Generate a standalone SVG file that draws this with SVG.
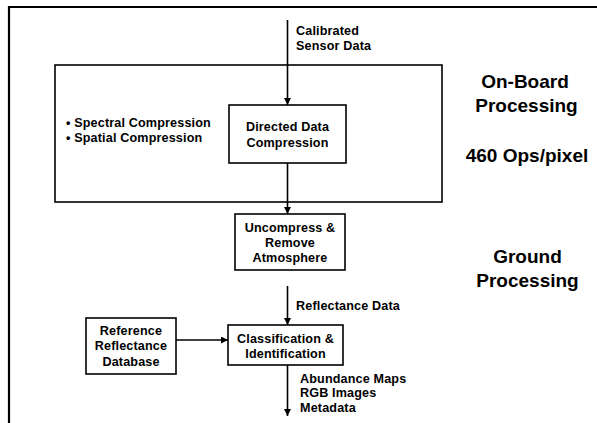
<svg xmlns="http://www.w3.org/2000/svg" width="597" height="423" viewBox="0 0 597 423">
<defs>
<marker id="ah" viewBox="0 0 10 10" refX="10" refY="5" markerWidth="7" markerHeight="7" markerUnits="userSpaceOnUse" orient="auto">
<path d="M0,0 L10,5 L0,10 z" fill="#000"/>
</marker>
<style>
.box{fill:#fff;stroke:#000;stroke-width:1.6}
.sm{font-family:"Liberation Sans",Arial,sans-serif;font-weight:bold;font-size:12.6px;letter-spacing:0.15px;fill:#000}
.lg{font-family:"Liberation Sans",Arial,sans-serif;font-weight:bold;font-size:19px;fill:#000}
.c{text-anchor:middle}
.ln{stroke:#000;stroke-width:1.6;fill:none}
</style>
</defs>
<rect width="597" height="423" fill="#fff"/>
<g id="frame">
<path d="M9,423 L9,7 L597,7" fill="none" stroke="#000" stroke-width="2.2"/>
</g>
<g id="onboard">
<rect x="55" y="65" width="387" height="137" fill="none" stroke="#000" stroke-width="1.6"/>
<text class="sm" x="66" y="127">• Spectral Compression</text>
<text class="sm" x="66" y="142">• Spatial Compression</text>
</g>
<g id="directed">
<rect class="box" x="229" y="105" width="117" height="58"/>
<text class="sm c" x="287.5" y="131">Directed Data</text>
<text class="sm c" x="287.5" y="147">Compression</text>
</g>
<g id="uncompress">
<rect class="box" x="235" y="214" width="110" height="56"/>
<text class="sm c" x="290" y="232">Uncompress &amp;</text>
<text class="sm c" x="290" y="247">Remove</text>
<text class="sm c" x="290" y="262">Atmosphere</text>
</g>
<g id="classification">
<rect class="box" x="228" y="325" width="115" height="40"/>
<text class="sm c" x="285.5" y="343">Classification &amp;</text>
<text class="sm c" x="285.5" y="358">Identification</text>
</g>
<g id="reference">
<rect class="box" x="86" y="318" width="90" height="56"/>
<text class="sm c" x="131" y="335">Reference</text>
<text class="sm c" x="131" y="350">Reflectance</text>
<text class="sm c" x="131" y="366">Database</text>
</g>
<g id="labels">
<text class="sm" x="296" y="35">Calibrated</text>
<text class="sm" x="296" y="49.5">Sensor Data</text>
<text class="sm" x="296" y="310">Reflectance Data</text>
<text class="sm" x="300" y="382.5">Abundance Maps</text>
<text class="sm" x="300" y="397">RGB Images</text>
<text class="sm" x="300" y="411.5">Metadata</text>
<text class="lg c" x="525" y="88">On-Board</text>
<text class="lg c" x="526.5" y="112">Processing</text>
<text class="lg c" x="527" y="162">460 Ops/pixel</text>
<text class="lg c" x="527.5" y="263">Ground</text>
<text class="lg c" x="527.5" y="287">Processing</text>
</g>
<g id="connectors">
<line class="ln" x1="287.5" y1="20" x2="287.5" y2="105" marker-end="url(#ah)"/>
<line class="ln" x1="287.5" y1="163" x2="287.5" y2="214" marker-end="url(#ah)"/>
<line class="ln" x1="287.5" y1="286" x2="287.5" y2="325" marker-end="url(#ah)"/>
<line class="ln" x1="176" y1="340" x2="228" y2="340" marker-end="url(#ah)"/>
<line class="ln" x1="287.5" y1="365" x2="287.5" y2="416" marker-end="url(#ah)"/>
</g>
</svg>
